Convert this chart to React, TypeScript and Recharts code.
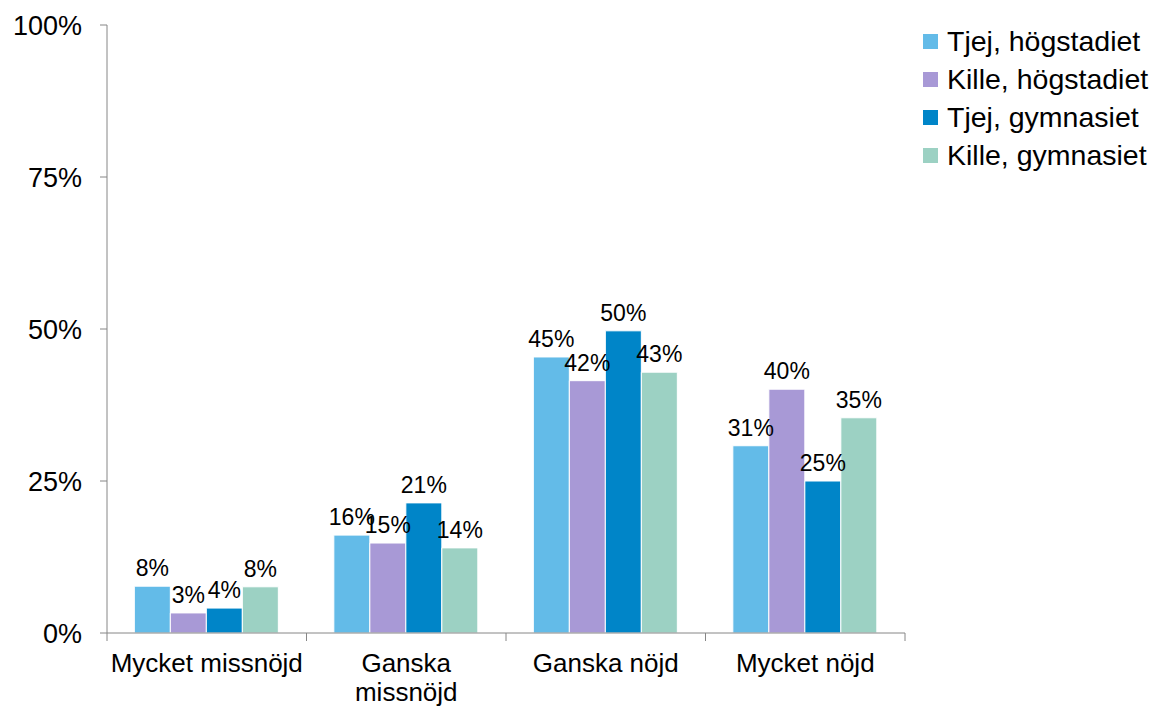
import { BarChart, Bar, XAxis, YAxis, Legend, LabelList } from 'recharts';

const categories = ['Mycket missnöjd', 'Ganska\nmissnöjd', 'Ganska nöjd', 'Mycket nöjd'];
const tjejHog = [7.7, 16.1, 45.4, 30.8];
const killeHog = [3.3, 14.8, 41.5, 40.1];
const tjejGym = [4.1, 21.4, 49.7, 25.0];
const killeGym = [7.6, 14.0, 42.9, 35.4];
const yTicks = [0, 25, 50, 75, 100];

const SERIES = [
  { key: 'tjejHog', name: 'Tjej, högstadiet', color: '#63BBE8' },
  { key: 'killeHog', name: 'Kille, högstadiet', color: '#A899D6' },
  { key: 'tjejGym', name: 'Tjej, gymnasiet', color: '#0085C8' },
  { key: 'killeGym', name: 'Kille, gymnasiet', color: '#9CD1C3' },
];

const data = categories.map((c, i) => ({
  name: c,
  tjejHog: tjejHog[i],
  killeHog: killeHog[i],
  tjejGym: tjejGym[i],
  killeGym: killeGym[i],
}));

const FONT = 'Liberation Sans, Arial, sans-serif';
const AXIS = '#868686';

function CategoryTick(props: any) {
  const { x, y, payload, width, index, visibleTicksCount } = props;
  const band = width / visibleTicksCount;
  const lines = String(payload.value).split('\n');
  return (
    <g>
      <line x1={x - band / 2} x2={x - band / 2} y1={y} y2={y + 8} stroke={AXIS} strokeWidth={1} />
      {index === visibleTicksCount - 1 && (
        <line x1={x + band / 2} x2={x + band / 2} y1={y} y2={y + 8} stroke={AXIS} strokeWidth={1} />
      )}
      <text x={x} y={y + 39} textAnchor="middle" fontSize={26} fontFamily={FONT} fill="#000">
        {lines.map((l, i) => (
          <tspan key={i} x={x} dy={i === 0 ? 0 : 29}>
            {l}
          </tspan>
        ))}
      </text>
    </g>
  );
}

function LegendBox() {
  return (
    <div style={{ fontFamily: FONT, fontSize: 28.5, color: '#000' }}>
      {SERIES.map((s) => (
        <div key={s.key} style={{ display: 'flex', alignItems: 'center', height: 38 }}>
          <div style={{ width: 15, height: 15, background: s.color, marginRight: 9 }} />
          <span>{s.name}</span>
        </div>
      ))}
    </div>
  );
}

export default function App() {
  return (
    <div style={{ position: 'absolute', left: 0, top: 0, width: 1156, height: 706, background: '#fff' }}>
      <BarChart
        width={1156}
        height={706}
        data={data}
        margin={{ top: 25, right: 15, bottom: 0, left: 0 }}
        barCategoryGap="13.7%"
        barGap={0}
      >
        <XAxis
          dataKey="name"
          height={73}
          stroke={AXIS}
          tickLine={false}
          tickSize={0}
          tickMargin={0}
          interval={0}
          tick={<CategoryTick />}
        />
        <YAxis
          width={107}
          domain={[0, 100]}
          ticks={yTicks}
          stroke={AXIS}
          tickSize={7}
          tickMargin={18}
          tickFormatter={(v: number) => `${v}%`}
          tick={{ fill: '#000', fontSize: 27, fontFamily: FONT }}
        />
        <Legend
          layout="vertical"
          align="right"
          verticalAlign="top"
          content={<LegendBox />}
          wrapperStyle={{ left: 923, top: 22, width: 236 }}
        />
        {SERIES.map((s) => (
          <Bar key={s.key} dataKey={s.key} name={s.name} fill={s.color} stroke="#fff" strokeWidth={1} isAnimationActive={false}>
            <LabelList
              dataKey={s.key}
              position="top"
              offset={10}
              formatter={(v: number) => `${Math.round(v)}%`}
              style={{ fill: '#000', fontSize: 23, fontFamily: FONT }}
            />
          </Bar>
        ))}
      </BarChart>
    </div>
  );
}
